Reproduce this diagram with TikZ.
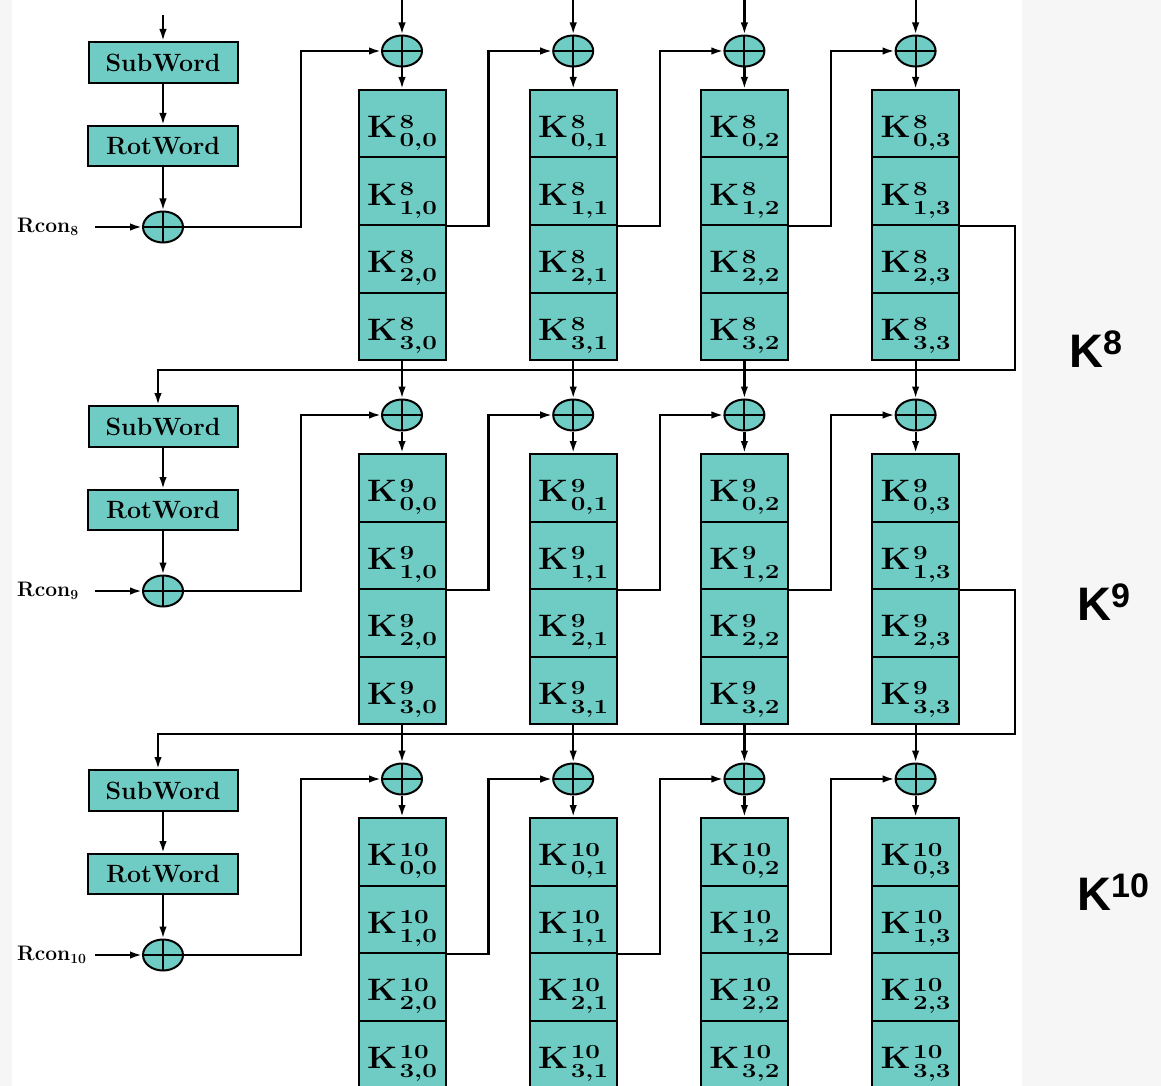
\documentclass[tikz,border=0pt]{standalone}
\usepackage{fontspec}
\usepackage{graphicx}
\newfontfamily\labelfont{Liberation Sans}
\usetikzlibrary{arrows.meta,shapes.geometric,calc}

\definecolor{keyfill}{RGB}{111,204,196}
\definecolor{sidebg}{RGB}{246,246,246}

% one round-key word: bold K with the round number above the indices
\newcommand{\kword}[2]{{\fontsize{31}{31}\selectfont\bfseries\scalebox{1.1}[1]{K}}\kern2.5pt{\fontsize{20}{20}\selectfont\bfseries\rlap{\raisebox{9.5pt}{\scalebox{1.3}[1]{#1}}}\raisebox{-9pt}{\scalebox{1.3}[1]{#2}}}}
% round constant label
\newcommand{\rconlbl}[1]{Rcon\raisebox{-3pt}{\fontsize{14}{14}\selectfont #1}}

\tikzset{
  wire/.style={line width=2.2pt},
  flow/.style={wire, -{Latex[length=12pt,width=7.5pt]}},
  keycell/.style={draw, fill=keyfill, line width=2pt, minimum width=87pt,
    minimum height=67.5pt, inner sep=0pt, text height=40pt, text depth=12pt},
  opbox/.style={draw, fill=keyfill, line width=2pt, inner sep=0pt,
    minimum height=41pt, font=\fontsize{25}{25}\selectfont\bfseries},
  xor/.style={ellipse, draw, fill=keyfill, line width=2pt, minimum width=40pt,
    minimum height=31pt, inner sep=0pt,
    path picture={\draw[line width=2pt]
      (path picture bounding box.north) -- (path picture bounding box.south)
      (path picture bounding box.west) -- (path picture bounding box.east);}},
  rconlabel/.style={anchor=base west, inner sep=0pt, font=\fontsize{21}{21}\selectfont\bfseries},
  roundlabel/.style={anchor=base west, inner sep=0pt, font=\labelfont\bfseries\fontsize{47}{47}\selectfont},
}

\begin{document}
\begin{tikzpicture}[x=1pt,y=-1pt]
\useasboundingbox (0,0) rectangle (1161,1086);
\fill[sidebg] (0,0) rectangle (1161,1086);
\fill[white] (12,0) rectangle (1022,1086);

\foreach \b/\r in {0/8,1/9,2/10}{
  \pgfmathsetmacro{\off}{364*\b}
  % the four words of the round key
  \foreach \i in {0,...,3}{
    \foreach \j in {0,...,3}{
      \node[keycell] (c\b-\i-\j) at ({402+171.2*\j},{\off+123.75+67.5*\i}) {\kword{\r}{\i,\j}};
    }
  }
  % xor in front of each word
  \foreach \j in {0,...,3}{
    \node[xor] (x\b-\j) at ({402+171.2*\j},{\off+51}) {};
    \draw[flow] (x\b-\j) -- (c\b-0-\j);
  }
  % g-function column
  \node[opbox, minimum width=149pt] (sw\b) at (163,{\off+62.5}) {SubWord};
  \node[opbox, minimum width=150pt, minimum height=40pt] (rw\b) at (163,{\off+146}) {RotWord};
  \node[xor] (xl\b) at (163,{\off+227}) {};
  \node[rconlabel] (rc\b) at (17,{\off+232.5}) {\rconlbl{\r}};
  \coordinate (rs\b) at (95,{\off+227});
  \draw[flow] (rs\b) -- (xl\b);
  \draw[flow] (sw\b) -- (rw\b);
  \draw[flow] (rw\b) -- (xl\b);
  \draw[flow] (xl\b.east) -- ++(117,0) |- (x\b-0);
  % chaining from word j to word j+1
  \foreach \j in {0,1,2}{
    \pgfmathtruncatemacro{\k}{\j+1}
    \draw[flow] (c\b-1-\j.south east) -- ++(42,0) |- (x\b-\k);
  }
}

% inputs of the first round shown
\coordinate (ins) at (163,15);
\draw[flow] (ins) -- (sw0);
\foreach \j in {0,...,3}{
  \coordinate (in\j) at ({402+171.2*\j},0);
  \draw[flow] (in\j) -- (x0-\j);
}

% links from one round key to the next
\foreach \b/\p in {1/0,2/1}{
  \pgfmathsetmacro{\off}{364*\b}
  \foreach \j in {0,...,3}{
    \draw[flow] (c\p-3-\j) -- (x\b-\j);
  }
  \coordinate (fb\b) at (158,{\off+6});
  \draw[flow] (c\p-1-3.south east) -- ++(55,0) |- (fb\b) -- (fb\b |- sw\b.north);
}

% round key labels
\node[roundlabel] (k8) at (1069,367) {K\raisebox{13pt}{\fontsize{34}{34}\selectfont 8}};
\node[roundlabel] (k9) at (1077,620) {K\raisebox{13pt}{\fontsize{34}{34}\selectfont 9}};
\node[roundlabel] (k10) at (1077,910) {K\raisebox{13pt}{\fontsize{34}{34}\selectfont 10}};
\end{tikzpicture}
\end{document}
